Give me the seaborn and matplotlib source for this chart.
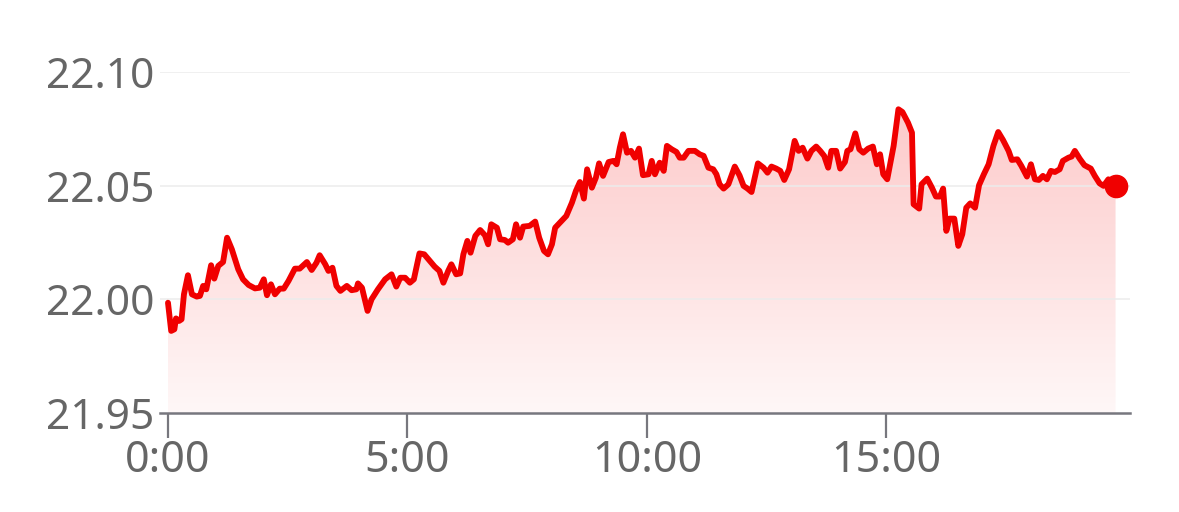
import numpy as np
import pandas as pd
import seaborn as sns
import matplotlib.pyplot as plt
from matplotlib.patches import PathPatch
from matplotlib.colors import LinearSegmentedColormap

# minutes since 0:00 and price
minutes = [0, 4, 8, 10, 14, 17, 20, 25, 30, 36, 40, 44, 48, 54, 58, 63, 69, 74, 80, 88,
           94, 101, 109, 115, 120, 124, 129, 134, 140, 145, 151, 159, 165, 174, 180, 186, 190, 197, 201, 206,
           211, 216, 224, 230, 236, 238, 243, 250, 255, 263, 272, 280, 286, 291, 297, 303, 308, 315, 321, 328,
           334, 340, 345, 351, 355, 361, 366, 370, 375, 379, 385, 391, 397, 401, 405, 412, 416, 422, 426, 432,
           436, 441, 445, 453, 460, 465, 471, 476, 481, 485, 493, 499, 506, 511, 516, 521, 525, 531, 536, 540,
           545, 552, 558, 562, 566, 570, 575, 580, 585, 590, 595, 602, 606, 610, 616, 621, 625, 631, 637, 641,
           646, 652, 660, 666, 671, 677, 683, 687, 691, 696, 702, 710, 716, 721, 726, 731, 735, 739, 746, 751,
           756, 762, 767, 772, 778, 785, 790, 795, 801, 806, 812, 817, 822, 827, 831, 837, 842, 848, 851, 855,
           861, 866, 871, 877, 883, 888, 892, 896, 901, 909, 915, 920, 927, 932, 934, 941, 944, 951, 957, 962,
           967, 971, 975, 979, 985, 990, 995, 1000, 1005, 1011, 1016, 1022, 1028, 1034, 1040, 1046, 1053, 1057, 1064, 1069,
           1076, 1081, 1086, 1091, 1096, 1101, 1106, 1111, 1117, 1121, 1128, 1132, 1136, 1142, 1148, 1156, 1161, 1167, 1172, 1178,
           1187]
prices = [21.9985, 21.9861, 21.9868, 21.9916, 21.9905, 21.9912, 22.0022, 22.0106, 22.0022, 22.0012,
          22.0015, 22.0059, 22.0044, 22.0150, 22.0091, 22.0147, 22.0164, 22.0271, 22.0220, 22.0132,
          22.0088, 22.0063, 22.0048, 22.0051, 22.0088, 22.0018, 22.0066, 22.0022, 22.0047, 22.0047,
          22.0081, 22.0135, 22.0135, 22.0164, 22.0129, 22.0161, 22.0194, 22.0154, 22.0125, 22.0139,
          22.0059, 22.0037, 22.0059, 22.0040, 22.0044, 22.0070, 22.0051, 21.9949, 22.0000, 22.0044,
          22.0088, 22.0110, 22.0056, 22.0095, 22.0095, 22.0073, 22.0088, 22.0202, 22.0198, 22.0169,
          22.0144, 22.0125, 22.0073, 22.0125, 22.0154, 22.0110, 22.0114, 22.0198, 22.0257, 22.0205,
          22.0279, 22.0305, 22.0282, 22.0242, 22.0330, 22.0315, 22.0264, 22.0261, 22.0249, 22.0264,
          22.0330, 22.0271, 22.0320, 22.0323, 22.0342, 22.0271, 22.0213, 22.0198, 22.0242, 22.0315,
          22.0345, 22.0367, 22.0425, 22.0477, 22.0516, 22.0443, 22.0572, 22.0491, 22.0535, 22.0598,
          22.0543, 22.0604, 22.0609, 22.0594, 22.0667, 22.0726, 22.0645, 22.0653, 22.0623, 22.0663,
          22.0546, 22.0550, 22.0609, 22.0550, 22.0601, 22.0565, 22.0675, 22.0660, 22.0648, 22.0623,
          22.0623, 22.0653, 22.0653, 22.0638, 22.0631, 22.0579, 22.0572, 22.0550, 22.0506, 22.0487,
          22.0506, 22.0584, 22.0545, 22.0499, 22.0487, 22.0472, 22.0535, 22.0598, 22.0579, 22.0557,
          22.0584, 22.0575, 22.0565, 22.0525, 22.0572, 22.0697, 22.0653, 22.0667, 22.0619, 22.0653,
          22.0672, 22.0653, 22.0631, 22.0579, 22.0653, 22.0653, 22.0575, 22.0604, 22.0653, 22.0660,
          22.0730, 22.0660, 22.0645, 22.0663, 22.0672, 22.0594, 22.0638, 22.0550, 22.0528, 22.0675,
          22.0836, 22.0824, 22.0777, 22.0733, 22.0418, 22.0399, 22.0506, 22.0531, 22.0491, 22.0452,
          22.0452, 22.0487, 22.0301, 22.0355, 22.0355, 22.0235, 22.0286, 22.0403, 22.0422, 22.0403,
          22.0502, 22.0550, 22.0594, 22.0675, 22.0736, 22.0701, 22.0653, 22.0613, 22.0616, 22.0587,
          22.0540, 22.0594, 22.0528, 22.0525, 22.0543, 22.0528, 22.0565, 22.0560, 22.0572, 22.0609,
          22.0623, 22.0628, 22.0653, 22.0619, 22.0590, 22.0575, 22.0543, 22.0510, 22.0499, 22.0528,
          22.0499]

y_ticks = [21.95, 22.00, 22.05, 22.10]
x_ticks = [0, 5, 10, 15]
x_labels = ["0:00", "5:00", "10:00", "15:00"]

sns.set_style("white")
plt.rcParams['font.family'] = ['Noto Sans', 'DejaVu Sans']

df = pd.DataFrame({"hour": np.array(minutes) / 60.0, "price": prices})

fig = plt.figure(figsize=(11.79, 5.12), dpi=100)
ax = fig.add_axes([0.1357, 0.1934, 0.8227, 0.666])

ymin, ymax = 21.95, 22.10
line_red = "#f00000"

# gradient fill under the line
poly = ax.fill_between(df["hour"], df["price"], ymin, facecolor="none", edgecolor="none")
grad = LinearSegmentedColormap.from_list("g", [(1, 0.97, 0.97), (0.99, 0.77, 0.77)])
im = ax.imshow(np.linspace(0, 1, 256).reshape(-1, 1), cmap=grad, aspect="auto",
               origin="lower", extent=[df["hour"].min(), df["hour"].max(), ymin, ymax],
               zorder=1)
clip = PathPatch(poly.get_paths()[0], transform=ax.transData, facecolor="none", edgecolor="none")
ax.add_patch(clip)
im.set_clip_path(clip)

for yv in y_ticks[1:]:
    ax.axhline(yv, color="#ececec", linewidth=1.4, zorder=1.5, alpha=0.8)

sns.lineplot(data=df, x="hour", y="price", ax=ax, color=line_red, linewidth=4.2, zorder=3)
ax.plot(df["hour"].iloc[-1], df["price"].iloc[-1], "o", color=line_red,
        markersize=16, zorder=4, clip_on=False)

ax.set_xlim(-0.167, 20.084)
ax.set_ylim(ymin, ymax)
ax.set_xticks(x_ticks)
ax.set_xticklabels(x_labels)
ax.set_yticks(y_ticks)
ax.set_yticklabels([f"{v:.2f}" for v in y_ticks])
ax.set_xlabel("")
ax.set_ylabel("")

for s in ["top", "right", "left"]:
    ax.spines[s].set_visible(False)
ax.spines["bottom"].set_color("#77777e")
ax.spines["bottom"].set_linewidth(1.8)

ax.tick_params(axis="x", length=18, width=1.6, color="#77777e", pad=1,
               labelsize=31, labelcolor="#666666", direction="out", bottom=True)
ax.tick_params(axis="y", length=0, pad=4, labelsize=30.5, labelcolor="#666666")

fig.savefig("out.png", dpi=100)
